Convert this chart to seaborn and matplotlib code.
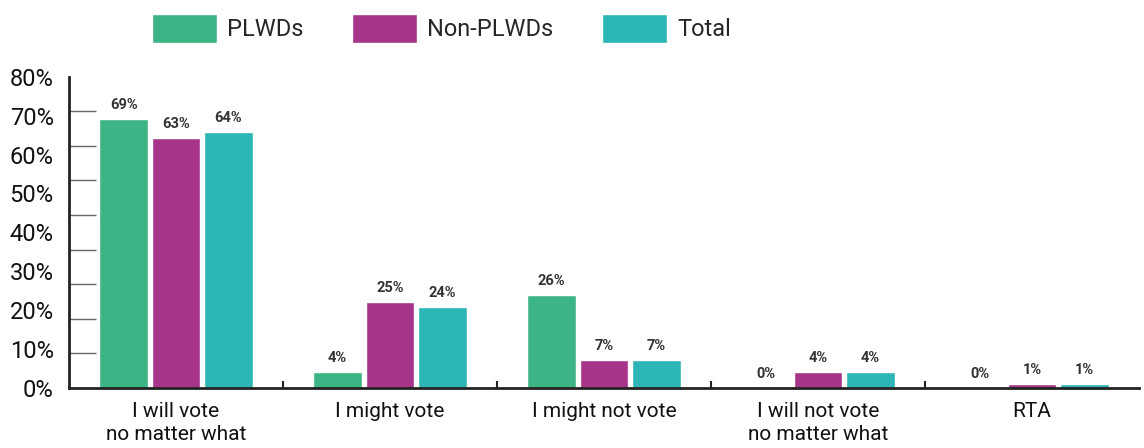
import numpy as np
import pandas as pd
import matplotlib
matplotlib.use("Agg")
import matplotlib.pyplot as plt
import seaborn as sns

categories = ["I will vote\nno matter what", "I might vote", "I might not vote",
              "I will not vote\nno matter what", "RTA"]
series = ["PLWDs", "Non-PLWDs", "Total"]
# bar heights as drawn in the reference
plwd_bar = [69.1, 4.1, 23.9, 0, 0]
non_plwd_bar = [64.2, 22.2, 7.2, 4.1, 1.0]
total_bar = [65.7, 20.8, 7.2, 4.1, 1.0]
# printed labels
plwd_lbl = [69, 4, 26, 0, 0]
non_plwd_lbl = [63, 25, 7, 4, 1]
total_lbl = [64, 24, 7, 4, 1]
yticks = [0, 10, 20, 30, 40, 50, 60, 70, 80]
colors = ["#3DB485", "#A6358A", "#2BB5B5"]

sns.set_theme(style="white")
plt.rcParams["font.family"] = ["Roboto", "DejaVu Sans"]

df = pd.DataFrame({
    "cat": categories * 3,
    "series": [s for s in series for _ in categories],
    "val": plwd_bar + non_plwd_bar + total_bar,
})
labels = [plwd_lbl, non_plwd_lbl, total_lbl]

fig = plt.figure(figsize=(11.44, 4.48), dpi=100)
ax = fig.add_axes([69/1144, 1-388/448, (1139-69)/1144, (388-76.7)/448])
sns.barplot(data=df, x="cat", y="val", hue="series", order=categories,
            hue_order=series, palette=colors, width=0.734, gap=0.065,
            saturation=1, ax=ax, legend=True)

for cont, lab in zip(ax.containers, labels):
    ax.bar_label(cont, labels=[f"{v}%" for v in lab], padding=5,
                 fontsize=10.5, fontweight="bold", color="#333333")

ax.set_xlim(-0.5, 4.5)
ax.set_ylim(0, 80)
ax.set_yticks(yticks)
ax.set_yticklabels([f"{t}%" for t in yticks], fontsize=17, color="#111111")
ax.set_yticks(np.linspace(0, 80, 10), minor=True)
ax.tick_params(axis="y", which="major", length=0, pad=11)
ax.tick_params(axis="y", which="minor", left=True, direction="in", length=19.4,
               width=1, color="#666666")
ax.set_xticks(range(len(categories)))
ax.set_xticklabels(categories, fontsize=15, color="#111111", linespacing=1.3)
ax.set_xticks([0.5, 1.5, 2.5, 3.5], minor=True)
ax.tick_params(axis="x", which="major", length=0, pad=10)
ax.tick_params(axis="x", which="minor", bottom=True, direction="in", length=5,
               width=1.5, color="#222222")
ax.set_xlabel("")
ax.set_ylabel("")
for s in ["top", "right"]:
    ax.spines[s].set_visible(False)
for s in ["left", "bottom"]:
    ax.spines[s].set_linewidth(2)
    ax.spines[s].set_color("#222222")

handles, lbls = ax.get_legend_handles_labels()
ax.legend_.remove()
fig.legend(handles, lbls, loc="upper left", bbox_to_anchor=(152/1144, 1-14/448),
           ncol=3, frameon=False, fontsize=17, handlelength=2.75,
           handleheight=1.5, handletextpad=0.42, columnspacing=2.08,
           borderpad=0, borderaxespad=0)

fig.savefig("out.png", dpi=100)
